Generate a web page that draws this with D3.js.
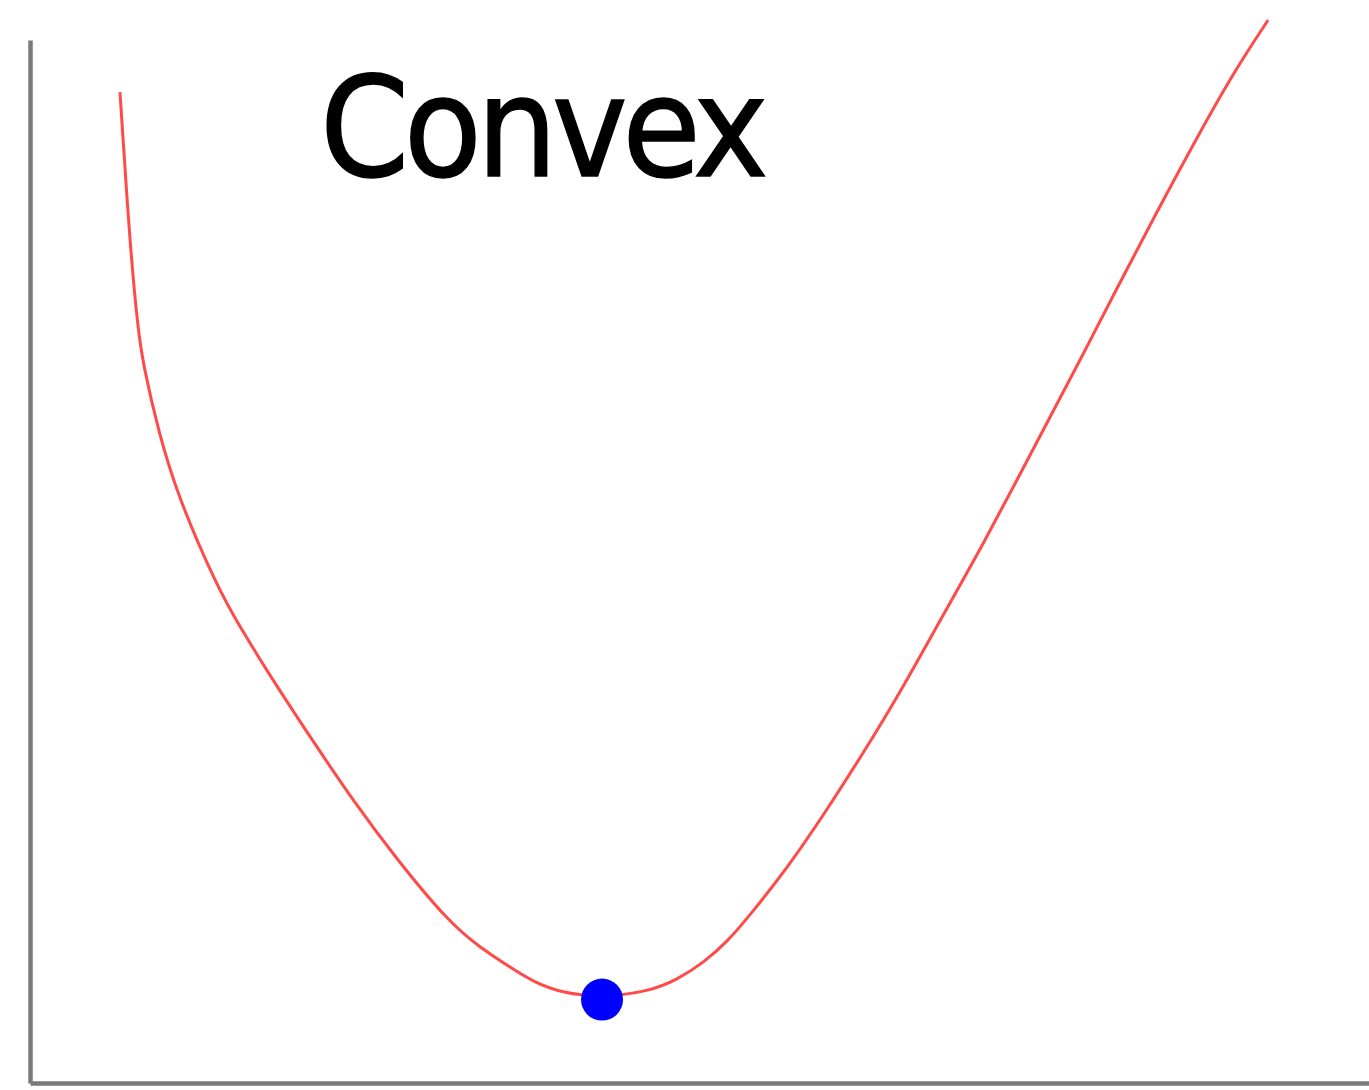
<!DOCTYPE html>
<html>
<head>
<meta charset="utf-8">
<script src="https://cdn.jsdelivr.net/npm/d3@7"></script>
<style>
  html, body { margin: 0; padding: 0; background: #fff; }
  svg { display: block; }
</style>
</head>
<body>
<svg id="chart" width="1369" height="1090"></svg>
<script>
// Sampled points of the convex curve f(x)
const xs = [0.672, 0.747, 0.807, 0.844, 0.956, 1.105, 1.397, 1.568, 1.845, 2.143,
            2.412, 2.741, 3.137, 3.361, 3.585, 3.757, 3.981, 4.272, 4.630, 4.832,
            5.026, 5.205, 5.377, 5.661, 5.937, 6.221, 6.497, 6.833, 7.117, 7.558,
            7.842, 8.118, 8.402, 8.738, 9.014, 9.246];
const ys = [9.50, 8.02, 7.22, 6.90, 6.26, 5.62, 4.76, 4.37, 3.80, 3.22,
            2.71, 2.14, 1.53, 1.30, 1.11, 0.97, 0.86, 0.82, 0.88, 0.99,
            1.15, 1.35, 1.61, 2.07, 2.59, 3.16, 3.74, 4.52, 5.16, 6.24,
            6.93, 7.62, 8.32, 9.12, 9.74, 10.19];

// The global minimum
const minimumX = [4.272];
const minimumY = [0.80];

const titleText = "Convex";

const svg = d3.select("#chart");

const x = d3.scaleLinear().domain([0, 10]).range([30, 1369]);
const y = d3.scaleLinear().domain([0, 10]).range([1083, 40]);

// Bare axes: spines only, no ticks
const axisStyle = g => g.select(".domain")
  .attr("stroke", "#7a7a7a")
  .attr("stroke-width", 4.5);

svg.append("g")
  .attr("transform", `translate(0,${y(0)})`)
  .call(d3.axisBottom(x).ticks(0).tickSizeOuter(0))
  .call(axisStyle);

svg.append("g")
  .attr("transform", `translate(${x(0)},0)`)
  .call(d3.axisLeft(y).ticks(0).tickSizeOuter(0))
  .call(axisStyle);

// Curve
const pts = xs.map((v, i) => [v, ys[i]]);
const line = d3.line()
  .x(d => x(d[0]))
  .y(d => y(d[1]))
  .curve(d3.curveBasis);

svg.append("path")
  .datum(pts)
  .attr("fill", "none")
  .attr("stroke", "#ff2a2a")
  .attr("stroke-opacity", 0.85)
  .attr("stroke-width", 3)
  .attr("d", line);

// Minimum marker
svg.selectAll("circle.min")
  .data(minimumX.map((v, i) => [v, minimumY[i]]))
  .join("circle")
  .attr("class", "min")
  .attr("cx", d => x(d[0]))
  .attr("cy", d => y(d[1]))
  .attr("r", 21)
  .attr("fill", "#0000ff");

// Title
svg.append("text")
  .attr("transform", "translate(320,176) scale(0.92,1)")
  .attr("font-family", "'DejaVu Sans', Verdana, sans-serif")
  .attr("font-size", 139)
  .attr("letter-spacing", -6)
  .attr("fill", "#000")
  .attr("stroke", "#000")
  .attr("stroke-width", 1.5)
  .text(titleText);
</script>
</body>
</html>
